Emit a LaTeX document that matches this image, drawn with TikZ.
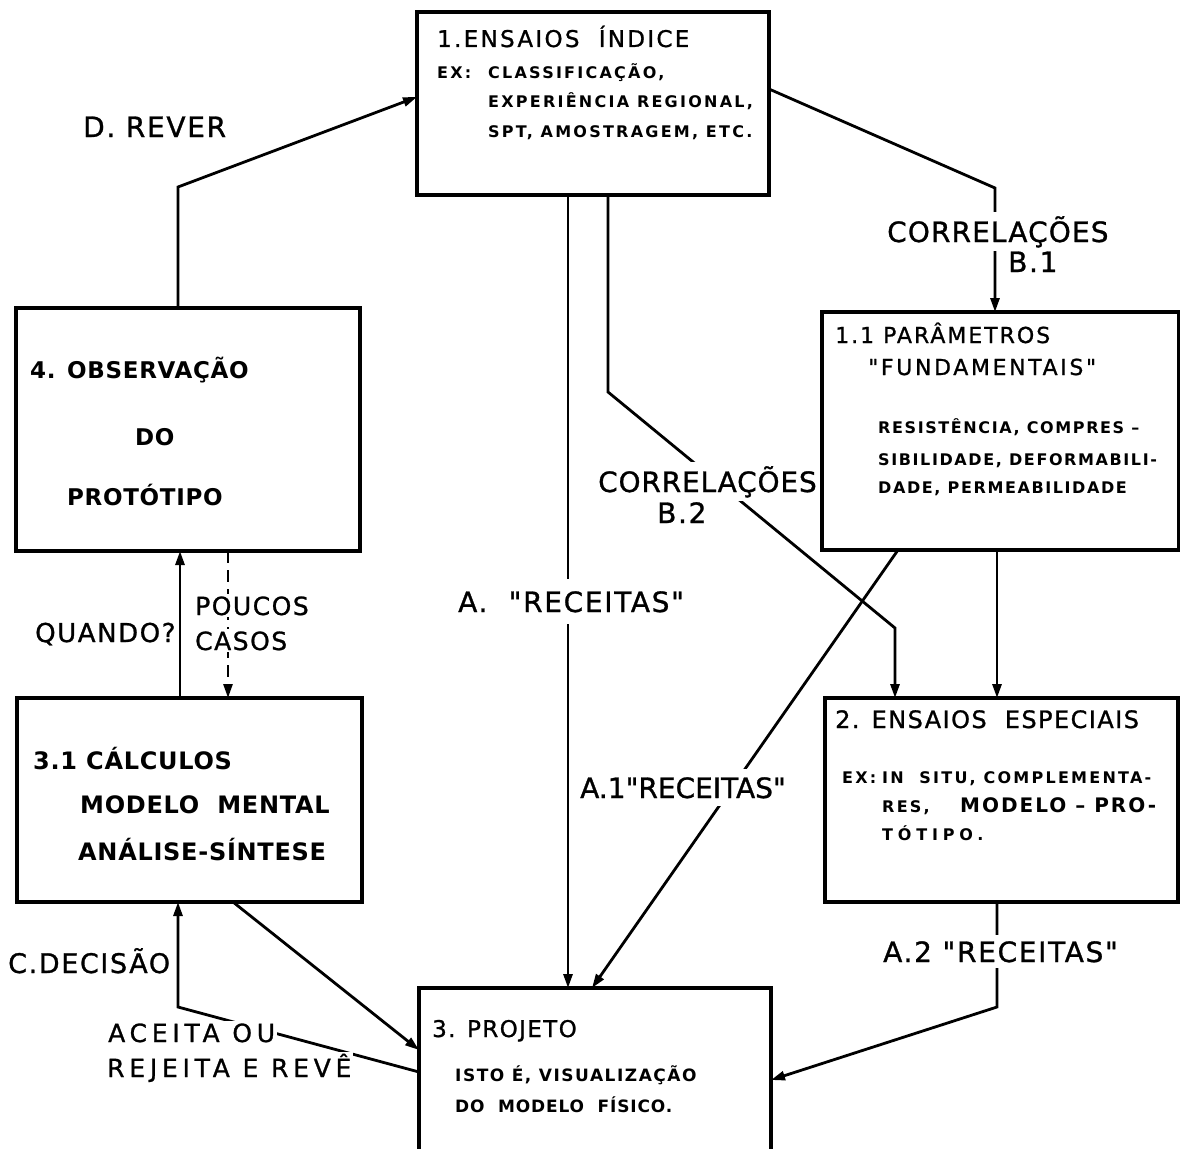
\documentclass[tikz,border=0pt]{standalone}
\usepackage{fontspec}
\setmainfont{DejaVu Sans}
\newfontfamily\basefam{DejaVu Sans}
\usetikzlibrary{arrows.meta}
\newcommand\myT[2]{\basefam\fontsize{#1}{#1}\selectfont\addfontfeatures{LetterSpace=#2,FakeBold=1}}
\newcommand\myS[2]{\basefam\bfseries\fontsize{#1}{#1}\selectfont\addfontfeatures{LetterSpace=#2}}
\tikzset{
  box/.style={draw, line width=3.2pt, rectangle, outer sep=0pt, inner sep=0pt, anchor=north west},
  conn/.style={line width=2.8pt, -{Triangle[length=14pt,width=9pt]}},
  dconn/.style={line width=2.6pt, dash pattern=on 12pt off 7pt, -{Triangle[length=14pt,width=9pt]}},
  txt/.style={anchor=base west, inner sep=0pt},
  lbl/.style={anchor=base west, inner xsep=2pt, inner ysep=4pt, fill=white},
}
\begin{document}
\begin{tikzpicture}[x=1pt,y=-1pt]
\useasboundingbox (0,0) rectangle (1180,1148);
% boxes
\node[box, minimum width=352pt, minimum height=183pt] (b1) at (417,12) {};
\node[box, minimum width=357pt, minimum height=238pt] (b11) at (822,312) {};
\node[box, minimum width=344pt, minimum height=243pt] (b4) at (16,308) {};
\node[box, minimum width=345pt, minimum height=204pt] (b31) at (17,698) {};
\node[box, minimum width=353pt, minimum height=204pt] (b2) at (825,698) {};
\node[box, minimum width=352pt, minimum height=175pt] (b3) at (419,988) {};
% box 1 text
\node[txt, font={\myT{23}{10}}] (t1a) at (437,47) {1.ENSAIOS\ \ ÍNDICE};
\node[txt, font={\myS{16}{14}}] (t1b) at (437,78) {EX:};
\node[txt, font={\myS{16}{14}}] (t1c) at (488,78) {CLASSIFICAÇÃO,};
\node[txt, font={\myS{16}{14}}] (t1d) at (488,107) {EXPERIÊNCIA REGIONAL,};
\node[txt, font={\myS{16}{14}}] (t1e) at (488,137) {SPT, AMOSTRAGEM, ETC.};
% box 1.1 text
\node[txt, font={\myT{22}{9}}] (t11a) at (835,343) {1.1 PARÂMETROS};
\node[txt, font={\myT{22}{12}}] (t11b) at (868,375) {"FUNDAMENTAIS"};
\node[txt, font={\myS{16}{10}}] (t11c) at (878,433) {RESISTÊNCIA, COMPRES –};
\node[txt, font={\myS{16}{10}}] (t11d) at (878,465) {SIBILIDADE, DEFORMABILI-};
\node[txt, font={\myS{16}{10}}] (t11e) at (878,493) {DADE, PERMEABILIDADE};
% box 4 text
\node[txt, font={\myS{23}{3}}] (t4a) at (30,378) {4. OBSERVAÇÃO};
\node[txt, font={\myS{23}{3}}] (t4b) at (135,445) {DO};
\node[txt, font={\myS{23}{3}}] (t4c) at (67,505) {PROTÓTIPO};
% box 3.1 text
\node[txt, font={\myS{24}{3}}] (t31a) at (33,769) {3.1 CÁLCULOS};
\node[txt, font={\myS{24}{3}}] (t31b) at (80,813) {MODELO\ \ MENTAL};
\node[txt, font={\myS{24}{3}}] (t31c) at (78,860) {ANÁLISE-SÍNTESE};
% box 2 text
\node[txt, font={\myT{24}{6}}] (t2a) at (835,728) {2. ENSAIOS\ \ ESPECIAIS};
\node[txt, font={\myS{16}{14}}] (t2b) at (842,783) {EX:};
\node[txt, font={\myS{16}{14}}] (t2c) at (882,783) {IN\ \ SITU, COMPLEMENTA-};
\node[txt, font={\myS{16}{14}}] (t2d) at (882,812) {RES,};
\node[txt, font={\myS{20}{10}}] (t2e) at (960,812) {MODELO – PRO-};
\node[txt, font={\myS{16}{30}}] (t2f) at (882,840) {TÓTIPO.};
% box 3 text
\node[txt, font={\myT{23}{6}}] (t3a) at (432,1037) {3. PROJETO};
\node[txt, font={\myS{17}{9}}] (t3b) at (455,1081) {ISTO É, VISUALIZAÇÃO};
\node[txt, font={\myS{17}{5}}] (t3c) at (455,1112) {DO\ \ MODELO\ \ FÍSICO.};
% connectors
\draw[conn] ([xshift=162pt]b4.north west) -- (178,187) -- ([yshift=-85pt]b1.north west);
\draw[conn] ([yshift=-77pt]b1.north east) -- (995,188) -- ([xshift=173pt]b11.north west);
\draw[conn] ([xshift=151pt]b1.south west) -- ([xshift=149pt]b3.north west);
\draw[conn] ([xshift=191pt]b1.south west) -- (608,392) -- (895,628) -- ([xshift=70pt]b2.north west);
\draw[conn] ([xshift=76pt]b11.south west) -- ([xshift=173pt]b3.north west);
\draw[conn] ([xshift=175pt]b11.south west) -- ([xshift=172pt]b2.north west);
\draw[conn] ([xshift=172pt]b2.south west) -- (997,1007) -- ([yshift=-92pt]b3.north east);
\draw[conn] ([xshift=163pt]b31.north west) -- ([xshift=164pt]b4.south west);
\draw[dconn] ([xshift=212pt]b4.south west) -- ([xshift=211pt]b31.north west);
\draw[conn] ([xshift=216pt]b31.south west) -- ([yshift=-62pt]b3.north west);
\draw[conn] ([yshift=-84pt]b3.north west) -- (178,1007) -- ([xshift=161pt]b31.south west);
% labels
\node[txt, font={\myT{28}{6}}] (lD) at (83,137) {D. REVER};
\node[lbl, font={\myT{28}{4}}] (lB1a) at (885,242) {CORRELAÇÕES};
\node[txt, font={\myT{28}{6}}] (lB1b) at (1008,272) {B.1};
\node[lbl, font={\myT{28}{3}}] (lB2a) at (596,492) {CORRELAÇÕES};
\node[lbl, font={\myT{28}{6}}] (lB2b) at (655,523) {B.2};
\node[lbl, inner ysep=12pt, font={\myT{28}{6}}] (lA) at (456,612) {A.\ \ "RECEITAS"};
\node[lbl, inner ysep=8pt, font={\myT{28}{0}}] (lA1) at (578,798) {A.1"RECEITAS"};
\node[lbl, inner ysep=6pt, font={\myT{28}{6}}] (lA2) at (881,962) {A.2 "RECEITAS"};
\node[txt, font={\myT{26}{6}}] (lQ) at (35,642) {QUANDO?};
\node[lbl, inner ysep=2pt, font={\myT{25}{6}}] (lP1) at (193,615) {POUCOS};
\node[lbl, inner ysep=2pt, font={\myT{25}{6}}] (lP2) at (193,650) {CASOS};
\node[txt, font={\myT{27}{6}}] (lC) at (8,973) {C.DECISÃO};
\node[lbl, inner ysep=2pt, font={\myT{25}{19}}] (lC1) at (106,1042) {ACEITA OU};
\node[lbl, inner ysep=2pt, font={\myT{25}{19}}] (lC2) at (105,1077) {REJEITA E REVÊ};
\end{tikzpicture}
\end{document}
